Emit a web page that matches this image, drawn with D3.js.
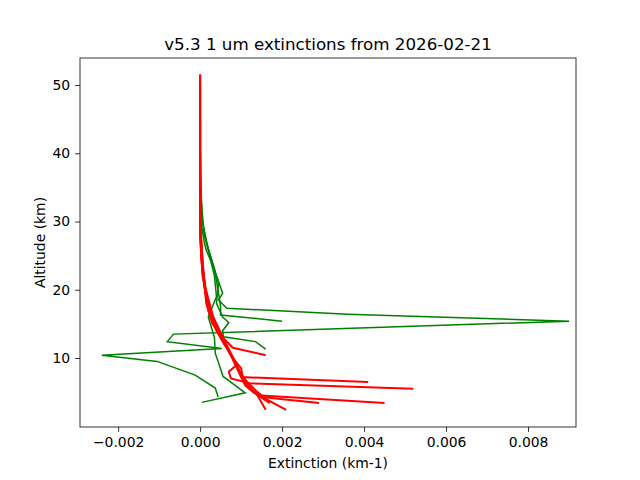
<!DOCTYPE html><html><head><meta charset="utf-8"><script src="https://cdn.jsdelivr.net/npm/d3@7"></script>
<style>body{margin:0;background:#fff}text{font-family:"DejaVu Sans",sans-serif}</style></head><body>
<svg id="c" width="640" height="480"></svg>
<script>
const title="v5.3 1 um extinctions from 2026-02-21";
const xTicks=[-0.002,0,0.002,0.004,0.006,0.008];
const yTicks=[10,20,30,40,50];
// each profile: [extinction (1e-3 km-1), altitude km]
const greenProfiles=[
 [[0,51.5],[0,35],[0.02,30],[0.1,27],[0.15,25.8],[0.32,23.4],[0.55,19.5],[0.45,18.5],[0.65,17.3],[3.6,16.4],[9.0,15.4],[-0.65,13.5],[-0.8,12.4],[0.53,11.4],[-2.4,10.4],[-1.05,9.5],[-0.12,7.5],[0.37,5.6],[0.44,4.3]],
 [[0,40],[0.05,30],[0.2,26],[0.35,23],[0.45,19.5],[0.5,17.5],[0.5,16.3],[2.0,15.4]],
 [[0,35],[0.1,28],[0.3,24],[0.45,21],[0.4,18],[0.55,16],[0.7,15.2],[0.55,14],[0.57,13.1],[1.35,12.4],[1.6,11.3]],
 [[0,32],[0.15,27],[0.35,22],[0.4,19],[0.2,16],[0.35,13],[0.37,10.7],[0.56,7.3],[1.1,4.9],[0.04,3.5]]
];
const redProfiles=[
 [[0,51.5],[0,33],[0.02,28],[0.05,24],[0.1,21],[0.15,18],[0.3,15],[0.55,13],[0.8,11.5],[1.6,10.4]],
 [[0,51.5],[0,32],[0.03,27],[0.08,23],[0.12,20],[0.2,17],[0.4,14],[0.6,12],[0.8,10],[0.95,8],[1.0,7.2],[4.1,6.5]],
 [[0,51.5],[0,31],[0.02,26],[0.06,22],[0.15,19],[0.25,16],[0.45,13.5],[0.7,11],[0.9,9],[0.7,8],[0.75,7],[1.2,6.3],[5.2,5.5]],
 [[0,50],[0,30],[0.04,25],[0.1,21],[0.2,18],[0.35,15],[0.55,12.5],[0.8,10],[1.0,8.5],[1.05,7],[1.2,5.5],[1.5,4.5],[4.5,3.4]],
 [[0,45],[0,30],[0.05,24],[0.12,20],[0.28,16],[0.5,13],[0.75,10.5],[0.9,8.5],[1.1,6],[1.3,5],[1.5,4.3],[2.9,3.4]],
 [[0,45],[0,29],[0.03,25],[0.1,21],[0.25,17],[0.45,14],[0.7,11],[0.95,8],[1.15,6.5],[1.4,5],[1.6,4],[2.1,2.4]],
 [[0,40],[0,29],[0.05,23],[0.15,19],[0.3,16],[0.5,13],[0.8,10],[1.0,7.5],[1.25,5.5],[1.4,4.5],[1.6,2.4]],
 [[0,40],[0,28],[0.04,24],[0.14,20],[0.32,16],[0.6,12.5],[0.85,9.5],[1.05,7],[1.3,5],[1.5,4.2],[1.7,3.4]]
];
const svg=d3.select("#c");
const L=80,R=576,T=58,B=427;
const x=d3.scaleLinear().domain([-0.00293,0.00917]).range([L,R]);
const y=d3.scaleLinear().domain([-0.11,53.96]).range([B,T]);
svg.append("defs").append("clipPath").attr("id","cp").append("rect").attr("x",L).attr("y",T).attr("width",R-L).attr("height",B-T);
const line=d3.line().x(d=>x(d[0]*1e-3)).y(d=>y(d[1]));
const g=svg.append("g").attr("clip-path","url(#cp)");
greenProfiles.forEach(p=>g.append("path").attr("d",line(p)).attr("fill","none").attr("stroke","green").attr("stroke-width",1.5));
redProfiles.forEach(p=>g.append("path").attr("d",line(p)).attr("fill","none").attr("stroke","red").attr("stroke-width",2));
svg.append("rect").attr("x",L).attr("y",T).attr("width",R-L).attr("height",B-T).attr("fill","none").attr("stroke","#000").attr("stroke-width",0.8);
const fmt=d3.format(".3f");
const xa=svg.append("g").attr("transform",`translate(0,${B})`).call(d3.axisBottom(x).tickValues(xTicks).tickFormat(d=>fmt(d).replace("-","\u2212")).tickSizeOuter(0).tickSize(4.9).tickPadding(4.9));
const ya=svg.append("g").attr("transform",`translate(${L},0)`).call(d3.axisLeft(y).tickValues(yTicks).tickSizeOuter(0).tickSize(4.9).tickPadding(4.9));
[xa,ya].forEach(a=>{a.select(".domain").remove();a.selectAll("text").attr("font-size",13.9).attr("fill","#000").style("font-family","DejaVu Sans");a.selectAll("line").attr("stroke-width",0.8);});
svg.append("text").attr("x",(L+R)/2).attr("y",50).attr("text-anchor","middle").attr("font-size",16.7).text(title);
svg.append("text").attr("x",(L+R)/2).attr("y",468).attr("text-anchor","middle").attr("font-size",13.9).text("Extinction (km-1)");
svg.append("text").attr("transform",`translate(45,${(T+B)/2}) rotate(-90)`).attr("text-anchor","middle").attr("font-size",13.9).text("Altitude (km)");
</script></body></html>
